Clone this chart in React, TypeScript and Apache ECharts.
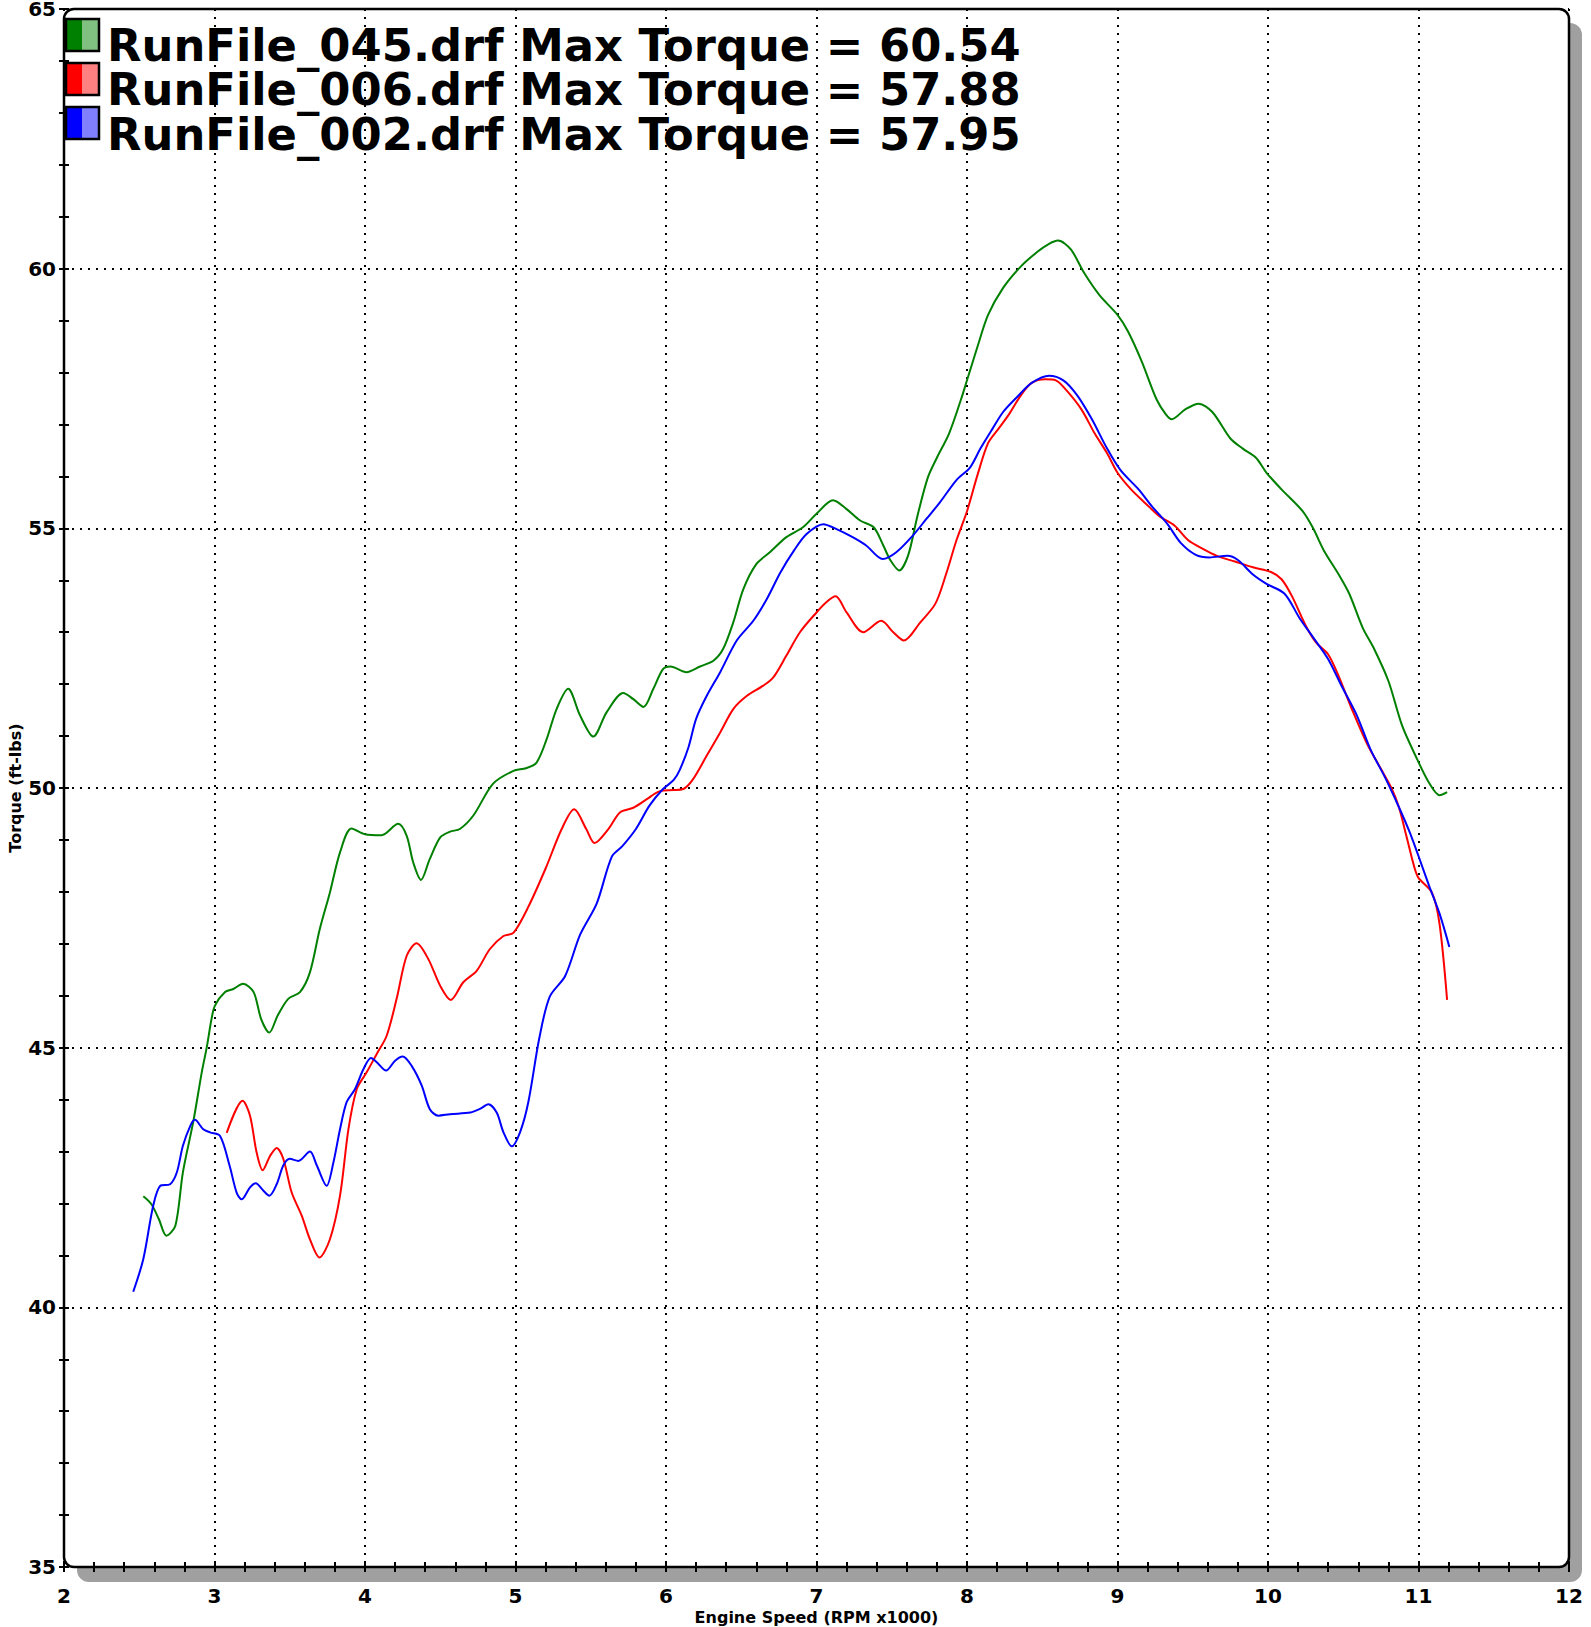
import React, { useEffect, useRef } from "react";
import * as echarts from "echarts";

// Engine speed (RPM x1000), torque (ft-lbs)
const run045: [number, number][] = [
  [2.527, 42.14], [2.58, 41.99], [2.63, 41.7], [2.68, 41.38], [2.74, 41.57], [2.79, 42.6], [2.86, 43.59],
  [2.915, 44.52], [2.95, 45.03], [2.98, 45.55], [3.003, 45.81], [3.07, 46.07], [3.125, 46.13], [3.19, 46.23],
  [3.26, 46.07], [3.31, 45.55], [3.364, 45.29], [3.42, 45.62], [3.49, 45.94], [3.568, 46.07], [3.634, 46.45],
  [3.7, 47.29], [3.767, 47.99], [3.834, 48.76], [3.91, 49.22], [4.0, 49.11], [4.11, 49.09], [4.22, 49.31],
  [4.277, 49.08], [4.32, 48.57], [4.372, 48.23], [4.43, 48.63], [4.5, 49.05], [4.565, 49.16], [4.63, 49.21],
  [4.72, 49.47], [4.85, 50.08], [4.986, 50.33], [5.07, 50.38], [5.14, 50.49], [5.207, 50.94], [5.273, 51.52],
  [5.35, 51.91], [5.43, 51.39], [5.517, 50.99], [5.606, 51.46], [5.716, 51.83], [5.783, 51.71], [5.85, 51.56],
  [5.916, 51.91], [5.98, 52.29], [6.03, 52.34], [6.136, 52.23], [6.226, 52.34], [6.315, 52.45], [6.38, 52.68],
  [6.447, 53.19], [6.514, 53.83], [6.6, 54.31], [6.69, 54.54], [6.8, 54.83], [6.91, 55.02], [7.0, 55.28],
  [7.11, 55.54], [7.2, 55.37], [7.29, 55.15], [7.38, 55.02], [7.444, 54.67], [7.49, 54.39], [7.55, 54.19],
  [7.61, 54.49], [7.67, 55.23], [7.74, 55.98], [7.8, 56.36], [7.88, 56.82], [7.96, 57.48], [8.0, 57.85],
  [8.07, 58.5], [8.14, 59.11], [8.24, 59.63], [8.36, 60.05], [8.47, 60.33], [8.54, 60.47], [8.605, 60.54],
  [8.69, 60.37], [8.78, 59.91], [8.88, 59.49], [9.0, 59.11], [9.07, 58.79], [9.16, 58.22], [9.26, 57.48],
  [9.32, 57.2], [9.36, 57.1], [9.45, 57.29], [9.54, 57.4], [9.63, 57.24], [9.75, 56.73], [9.83, 56.54],
  [9.92, 56.36], [9.99, 56.07], [10.09, 55.75], [10.23, 55.33], [10.3, 55.0], [10.37, 54.58], [10.47, 54.11],
  [10.54, 53.74], [10.63, 53.08], [10.7, 52.71], [10.8, 52.06], [10.89, 51.21], [10.99, 50.56], [11.07, 50.1],
  [11.14, 49.86], [11.19, 49.92],
];

const run006: [number, number][] = [
  [3.081, 43.36], [3.187, 43.98], [3.236, 43.69], [3.28, 42.98], [3.32, 42.64], [3.37, 42.92], [3.413, 43.07],
  [3.457, 42.86], [3.513, 42.21], [3.58, 41.76], [3.634, 41.31], [3.697, 40.96], [3.767, 41.31], [3.834, 42.15],
  [3.89, 43.43], [3.945, 44.2], [4.01, 44.52], [4.078, 44.88], [4.144, 45.23], [4.21, 45.94], [4.277, 46.77],
  [4.343, 47.01], [4.42, 46.71], [4.5, 46.19], [4.57, 45.92], [4.653, 46.26], [4.742, 46.48], [4.83, 46.9],
  [4.92, 47.15], [4.986, 47.21], [5.085, 47.71], [5.2, 48.45], [5.307, 49.21], [5.39, 49.59], [5.47, 49.21],
  [5.525, 48.94], [5.617, 49.21], [5.694, 49.53], [5.783, 49.62], [5.87, 49.78], [5.96, 49.94], [6.05, 49.96],
  [6.115, 49.98], [6.18, 50.17], [6.27, 50.62], [6.36, 51.07], [6.447, 51.52], [6.536, 51.77], [6.646, 51.97],
  [6.713, 52.13], [6.8, 52.55], [6.89, 53.0], [7.0, 53.38], [7.067, 53.58], [7.127, 53.69], [7.2, 53.38],
  [7.31, 53.0], [7.43, 53.22], [7.51, 53.0], [7.58, 52.84], [7.69, 53.19], [7.79, 53.55], [7.86, 54.11],
  [7.93, 54.77], [8.0, 55.33], [8.07, 56.03], [8.14, 56.64], [8.21, 56.92], [8.28, 57.2], [8.36, 57.57],
  [8.43, 57.8], [8.52, 57.87], [8.59, 57.85], [8.66, 57.66], [8.76, 57.29], [8.85, 56.82], [8.93, 56.45],
  [9.0, 56.07], [9.09, 55.75], [9.19, 55.47], [9.28, 55.23], [9.38, 55.05], [9.47, 54.77], [9.57, 54.6],
  [9.66, 54.47], [9.78, 54.36], [9.9, 54.25], [10.02, 54.16], [10.09, 54.02], [10.16, 53.69], [10.25, 53.13],
  [10.32, 52.8], [10.4, 52.57], [10.47, 52.15], [10.56, 51.5], [10.66, 50.84], [10.75, 50.37], [10.82, 50.0],
  [10.87, 49.63], [10.92, 49.07], [10.97, 48.5], [11.0, 48.27], [11.09, 47.98], [11.14, 47.38], [11.19, 45.92],
];

const run002: [number, number][] = [
  [2.46, 40.3], [2.527, 40.93], [2.593, 41.96], [2.64, 42.34], [2.705, 42.37], [2.75, 42.6], [2.79, 43.11],
  [2.84, 43.5], [2.87, 43.61], [2.925, 43.43], [2.97, 43.37], [3.037, 43.3], [3.1, 42.73], [3.147, 42.21],
  [3.18, 42.08], [3.236, 42.31], [3.274, 42.39], [3.324, 42.25], [3.364, 42.15], [3.413, 42.37], [3.457, 42.73],
  [3.5, 42.86], [3.557, 42.82], [3.634, 43.0], [3.68, 42.73], [3.745, 42.34], [3.79, 42.79], [3.834, 43.43],
  [3.878, 43.95], [3.933, 44.2], [3.99, 44.59], [4.04, 44.8], [4.078, 44.72], [4.14, 44.56], [4.2, 44.75],
  [4.25, 44.83], [4.31, 44.65], [4.377, 44.27], [4.43, 43.82], [4.487, 43.69], [4.565, 43.72], [4.7, 43.75],
  [4.764, 43.82], [4.82, 43.91], [4.875, 43.75], [4.92, 43.37], [4.975, 43.1], [5.03, 43.37], [5.085, 43.95],
  [5.158, 45.18], [5.227, 45.98], [5.33, 46.38], [5.43, 47.18], [5.54, 47.78], [5.64, 48.68], [5.71, 48.88],
  [5.8, 49.21], [5.89, 49.66], [5.98, 49.98], [6.05, 50.15], [6.09, 50.34], [6.15, 50.79], [6.2, 51.33],
  [6.27, 51.77], [6.36, 52.23], [6.47, 52.84], [6.58, 53.22], [6.67, 53.64], [6.76, 54.15], [6.85, 54.57],
  [6.934, 54.89], [7.045, 55.08], [7.13, 54.99], [7.24, 54.83], [7.33, 54.67], [7.44, 54.41], [7.53, 54.54],
  [7.64, 54.86], [7.73, 55.18], [7.82, 55.5], [7.93, 55.93], [8.02, 56.17], [8.09, 56.54], [8.17, 56.92],
  [8.24, 57.24], [8.33, 57.52], [8.43, 57.8], [8.546, 57.94], [8.64, 57.85], [8.73, 57.57], [8.83, 57.1],
  [8.93, 56.54], [9.02, 56.12], [9.14, 55.75], [9.23, 55.42], [9.33, 55.09], [9.42, 54.72], [9.52, 54.49],
  [9.61, 54.44], [9.73, 54.47], [9.8, 54.39], [9.9, 54.11], [9.99, 53.93], [10.11, 53.74], [10.21, 53.27],
  [10.3, 52.9], [10.4, 52.48], [10.49, 51.96], [10.59, 51.4], [10.68, 50.75], [10.78, 50.19], [10.87, 49.63],
  [10.94, 49.16], [11.0, 48.69], [11.07, 48.12], [11.14, 47.58], [11.205, 46.94],
];

const seriesNames = [
  "RunFile_045.drf Max Torque = 60.54",
  "RunFile_006.drf Max Torque = 57.88",
  "RunFile_002.drf Max Torque = 57.95",
];
const seriesData = [run045, run006, run002];
const seriesColors = ["#008000", "#ff0000", "#0000ff"];
const lightColors = ["#80c080", "#ff8080", "#8080ff"];

const X_MIN = 2, X_MAX = 12, X_STEP = 1;
const Y_MIN = 35, Y_MAX = 65, Y_STEP = 5;
const xTitle = "Engine Speed (RPM x1000)";
const yTitle = "Torque (ft-lbs)";

const FONT = "DejaVu Sans";
const W = 1591, H = 1627;
const PL = 64, PT = 9, PR = 1569, PB = 1567;

function buildOption() {
  const legendEls: any[] = [];
  seriesNames.forEach((name, i) => {
    const by = 19 + i * 44;
    legendEls.push(
      { type: "rect", z: 100, shape: { x: 66, y: by, width: 16.5, height: 32 }, style: { fill: seriesColors[i] } },
      { type: "rect", z: 100, shape: { x: 82.5, y: by, width: 16.5, height: 32 }, style: { fill: lightColors[i] } },
      { type: "rect", z: 101, shape: { x: 66, y: by, width: 33, height: 32 }, style: { fill: "none", stroke: "#000", lineWidth: 2.5 } },
      {
        type: "text", z: 101, x: 107, y: 45.5 + i * 44.3,
        style: { text: name, fill: "#000", font: `bold 44.8px "${FONT}"`, textVerticalAlign: "middle", textAlign: "left" },
      }
    );
  });

  const tickStyle = { color: "#000", width: 2 };
  const labelStyle = { fontSize: 20, fontWeight: "bold", fontFamily: FONT, color: "#000" };
  const nameStyle = { fontSize: 16, fontWeight: "bold", fontFamily: FONT, color: "#000" };
  const gridLine = { show: true, lineStyle: { color: "#000", type: [2, 6], width: 2 } };

  const xBase = { type: "value", min: X_MIN, max: X_MAX, interval: X_STEP, position: "bottom", axisLine: { show: false } };
  const yBase = { type: "value", min: Y_MIN, max: Y_MAX, interval: Y_STEP, position: "left", axisLine: { show: false } };

  return {
    animation: false,
    backgroundColor: "#fff",
    grid: { left: PL, top: PT, right: W - PR, bottom: H - PB, containLabel: false, outerBoundsMode: "none" },
    graphic: [
      { type: "rect", z: -10, silent: true, shape: { x: PL + 13, y: PT + 14, width: PR - PL, height: PB - PT + 1, r: 12 }, style: { fill: "#a0a0a0" } },
      { type: "rect", z: -9, silent: true, shape: { x: PL, y: PT, width: PR - PL, height: PB - PT, r: 10 }, style: { fill: "#fff" } },
      { type: "rect", z: 99, silent: true, shape: { x: PL, y: PT, width: PR - PL, height: PB - PT, r: 10 }, style: { fill: "none", stroke: "#000", lineWidth: 2.5 } },
      ...legendEls,
    ],
    xAxis: [
      {
        ...xBase,
        axisTick: { show: true, length: 5, lineStyle: tickStyle },
        minorTick: { show: true, splitNumber: 5, length: 5, lineStyle: tickStyle },
        axisLabel: { margin: 19, ...labelStyle },
        splitLine: gridLine,
        name: xTitle, nameLocation: "middle", nameGap: 42, nameMoveOverlap: false, nameTextStyle: nameStyle,
      },
      {
        ...xBase,
        axisTick: { show: true, inside: true, length: 5, lineStyle: tickStyle },
        minorTick: { show: true, splitNumber: 5, length: 5, lineStyle: tickStyle },
        axisLabel: { show: false },
        splitLine: { show: false },
      },
    ],
    yAxis: [
      {
        ...yBase,
        axisTick: { show: true, length: 5, lineStyle: tickStyle },
        minorTick: { show: true, splitNumber: 5, length: 5, lineStyle: tickStyle },
        axisLabel: { margin: 8, ...labelStyle },
        splitLine: gridLine,
        name: yTitle, nameLocation: "middle", nameGap: 41, nameRotate: 90, nameMoveOverlap: false, nameTextStyle: nameStyle,
      },
      {
        ...yBase,
        axisTick: { show: true, inside: true, length: 5, lineStyle: tickStyle },
        minorTick: { show: true, splitNumber: 5, length: 5, lineStyle: tickStyle },
        axisLabel: { show: false },
        splitLine: { show: false },
      },
    ],
    series: seriesData.map((d, i) => ({
      type: "line",
      name: seriesNames[i],
      data: d,
      xAxisIndex: 0,
      yAxisIndex: 0,
      showSymbol: false,
      symbol: "none",
      smooth: 0.3,
      z: 3 + i,
      lineStyle: { color: seriesColors[i], width: 2 },
      itemStyle: { color: seriesColors[i] },
    })),
  };
}

export default function App() {
  const ref = useRef<HTMLDivElement>(null);
  useEffect(() => {
    document.body.style.margin = "0";
    const chart = echarts.init(ref.current!, null, { renderer: "svg" });
    chart.setOption(buildOption() as any);
    return () => chart.dispose();
  }, []);
  return <div ref={ref} style={{ width: W, height: H, overflow: "hidden" }} />;
}
